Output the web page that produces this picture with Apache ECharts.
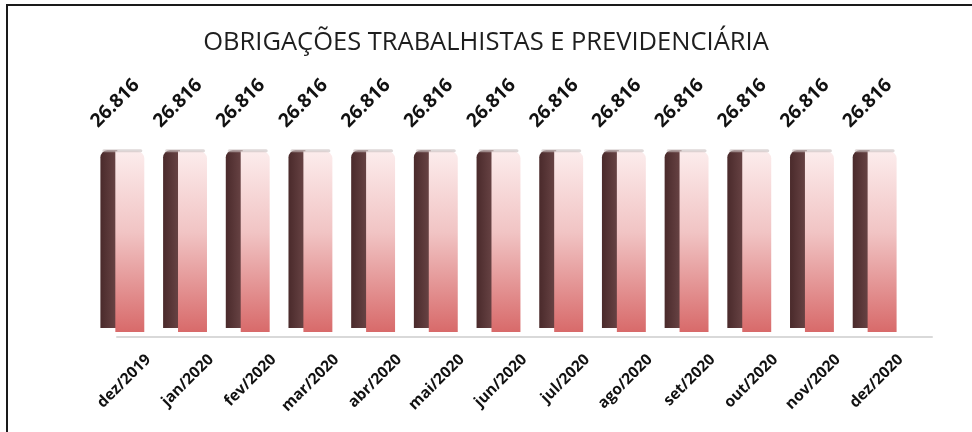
<!DOCTYPE html>
<html>
<head>
<meta charset="utf-8">
<script src="https://cdn.jsdelivr.net/npm/echarts@6/dist/echarts.min.js"></script>
<style>
  html, body { margin: 0; padding: 0; background: #fff; }
  #chart { width: 972px; height: 432px; }
</style>
</head>
<body>
<div id="chart"></div>
<script>
const months = ["dez/2019", "jan/2020", "fev/2020", "mar/2020", "abr/2020", "mai/2020", "jun/2020",
  "jul/2020", "ago/2020", "set/2020", "out/2020", "nov/2020", "dez/2020"];
const values = [26816, 26816, 26816, 26816, 26816, 26816, 26816, 26816, 26816, 26816, 26816, 26816, 26816];

const fmt = (v) => v.toLocaleString("pt-BR");

const chart = echarts.init(document.getElementById("chart"));

const renderBar = (params, api) => {
  const top = api.coord([api.value(0), api.value(1)]);
  const base = api.coord([api.value(0), 0]);
  const w = api.size([1, 0])[0] * 0.7;
  const x0 = top[0] - w / 2;
  const h = base[1] - top[1];
  const lw = w * 0.34;
  return {
    type: "group",
    children: [
      {
        // dark side face
        type: "rect",
        shape: { x: x0, y: top[1], width: lw + 2, height: h - 2, r: [7, 0, 0, 0] },
        style: {
          fill: new echarts.graphic.LinearGradient(0, 0, 1, 0, [
            { offset: 0, color: "#4a2a2b" },
            { offset: 1, color: "#6a4546" },
          ]),
        },
      },
      {
        // light front face
        type: "rect",
        shape: { x: x0 + lw, y: top[1] + 1, width: w - lw, height: h + 1, r: [0, 7, 0, 0] },
        style: {
          fill: new echarts.graphic.LinearGradient(0, 0, 0, 1, [
            { offset: 0, color: "#fcecec" },
            { offset: 0.45, color: "#f1c4c4" },
            { offset: 1, color: "#d86a6a" },
          ]),
        },
      },
      {
        // top cap highlight
        type: "rect",
        shape: { x: x0 + 2, y: top[1] - 1, width: w - 4, height: 3, r: 2 },
        style: { fill: "rgba(200,190,190,0.6)" },
      },
      {
        type: "text",
        x: top[0] - 7,
        y: top[1] - 47,
        rotation: Math.PI / 4,
        style: {
          text: fmt(api.value(1)),
          fontFamily: "Open Sans",
          fontWeight: "bold",
          fontSize: 19,
          fill: "#111",
          align: "center",
          verticalAlign: "middle",
        },
      },
    ],
  };
};

const option = {
  backgroundColor: "#fff",
  animation: false,
  title: {
    text: "OBRIGAÇÕES TRABALHISTAS E PREVIDENCIÁRIA",
    left: "center",
    top: 25,
    textStyle: {
      fontFamily: "Open Sans",
      fontWeight: "normal",
      fontSize: 25.5,
      color: "#1e1e1e",
    },
  },
  graphic: [
    {
      type: "polyline",
      shape: { points: [[7, 432], [7, 5], [972, 5]] },
      style: { stroke: "#1a1a1a", lineWidth: 2, fill: null },
    },
  ],
  grid: [
    { left: 91, right: 66, top: 129, bottom: 102 },
    { left: 117, right: 40, top: 129, bottom: 95 },
  ],
  xAxis: [
    {
      type: "category",
      gridIndex: 0,
      data: months,
      axisLine: { show: false },
      axisTick: { show: false },
      axisLabel: { show: false },
    },
    {
      type: "category",
      gridIndex: 1,
      data: months,
      axisLine: { show: true, lineStyle: { color: "#d9d9d9", width: 2 } },
      axisTick: { show: false },
      axisLabel: {
        rotate: 45,
        margin: 20,
        interval: 0,
        fontFamily: "Open Sans",
        fontWeight: "bold",
        fontSize: 15.5,
        color: "#111",
      },
    },
  ],
  yAxis: [
    { type: "value", gridIndex: 0, min: 0, max: 30000, show: false },
    { type: "value", gridIndex: 1, min: 0, max: 30000, show: false },
  ],
  series: [
    {
      type: "custom",
      xAxisIndex: 0,
      yAxisIndex: 0,
      renderItem: renderBar,
      encode: { x: 0, y: 1 },
      data: values.map((v, i) => [i, v]),
    },
  ],
};

chart.setOption(option);
</script>
</body>
</html>
